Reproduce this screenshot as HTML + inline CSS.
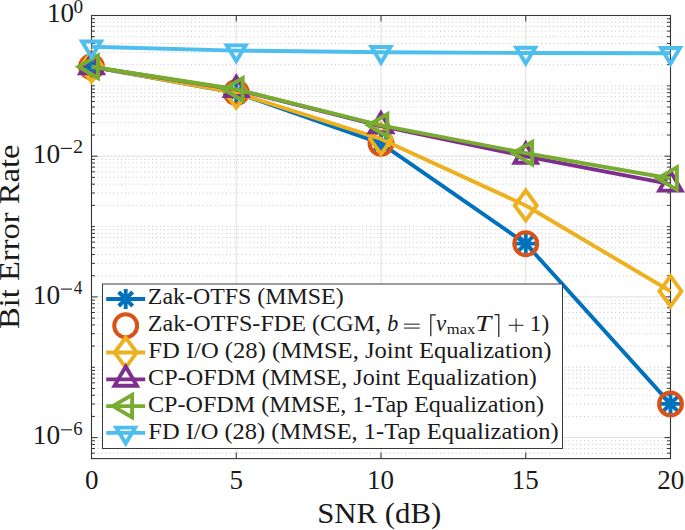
<!DOCTYPE html>
<html><head><meta charset="utf-8"><style>
html,body{margin:0;padding:0;background:#fff;width:685px;height:530px;overflow:hidden}
svg{display:block;font-family:"Liberation Serif",serif}
</style></head><body>
<svg width="685" height="530" viewBox="0 0 685 530">
<rect width="685" height="530" fill="#fff"/>
<path d="M93.74 85.85H669.50 M93.74 64.67H669.50 M93.74 52.28H669.50 M93.74 43.50H669.50 M93.74 36.68H669.50 M93.74 31.11H669.50 M93.74 26.40H669.50 M93.74 22.32H669.50 M93.74 18.72H669.50 M93.74 135.02H669.50 M93.74 122.63H669.50 M93.74 113.85H669.50 M93.74 107.03H669.50 M93.74 101.46H669.50 M93.74 96.75H669.50 M93.74 92.67H669.50 M93.74 89.07H669.50 M93.74 226.55H669.50 M93.74 205.37H669.50 M93.74 192.98H669.50 M93.74 184.20H669.50 M93.74 177.38H669.50 M93.74 171.81H669.50 M93.74 167.10H669.50 M93.74 163.02H669.50 M93.74 159.42H669.50 M93.74 275.72H669.50 M93.74 263.33H669.50 M93.74 254.55H669.50 M93.74 247.73H669.50 M93.74 242.16H669.50 M93.74 237.45H669.50 M93.74 233.37H669.50 M93.74 229.77H669.50 M93.74 367.25H669.50 M93.74 346.07H669.50 M93.74 333.68H669.50 M93.74 324.90H669.50 M93.74 318.08H669.50 M93.74 312.51H669.50 M93.74 307.80H669.50 M93.74 303.72H669.50 M93.74 300.12H669.50 M93.74 416.42H669.50 M93.74 404.03H669.50 M93.74 395.25H669.50 M93.74 388.43H669.50 M93.74 382.86H669.50 M93.74 378.15H669.50 M93.74 374.07H669.50 M93.74 370.47H669.50 M93.74 453.21H669.50 M93.74 448.50H669.50 M93.74 444.42H669.50 M93.74 440.82H669.50" stroke="#c4c4c4" stroke-width="1" stroke-dasharray="1 2.891" fill="none"/>
<path d="M91.50 156.20H670.50 M91.50 296.90H670.50 M91.50 437.60H670.50 M236.25 15.50V458.60 M381.00 15.50V458.60 M525.75 15.50V458.60" stroke="#dfdfdf" stroke-width="1" fill="none"/>
<path d="M91.50 15.50h6M670.50 15.50h-6 M91.50 156.20h6M670.50 156.20h-6 M91.50 296.90h6M670.50 296.90h-6 M91.50 437.60h6M670.50 437.60h-6 M91.50 85.85h3.4M670.50 85.85h-3.4 M91.50 64.67h3.4M670.50 64.67h-3.4 M91.50 52.28h3.4M670.50 52.28h-3.4 M91.50 43.50h3.4M670.50 43.50h-3.4 M91.50 36.68h3.4M670.50 36.68h-3.4 M91.50 31.11h3.4M670.50 31.11h-3.4 M91.50 26.40h3.4M670.50 26.40h-3.4 M91.50 22.32h3.4M670.50 22.32h-3.4 M91.50 18.72h3.4M670.50 18.72h-3.4 M91.50 135.02h3.4M670.50 135.02h-3.4 M91.50 122.63h3.4M670.50 122.63h-3.4 M91.50 113.85h3.4M670.50 113.85h-3.4 M91.50 107.03h3.4M670.50 107.03h-3.4 M91.50 101.46h3.4M670.50 101.46h-3.4 M91.50 96.75h3.4M670.50 96.75h-3.4 M91.50 92.67h3.4M670.50 92.67h-3.4 M91.50 89.07h3.4M670.50 89.07h-3.4 M91.50 226.55h3.4M670.50 226.55h-3.4 M91.50 205.37h3.4M670.50 205.37h-3.4 M91.50 192.98h3.4M670.50 192.98h-3.4 M91.50 184.20h3.4M670.50 184.20h-3.4 M91.50 177.38h3.4M670.50 177.38h-3.4 M91.50 171.81h3.4M670.50 171.81h-3.4 M91.50 167.10h3.4M670.50 167.10h-3.4 M91.50 163.02h3.4M670.50 163.02h-3.4 M91.50 159.42h3.4M670.50 159.42h-3.4 M91.50 275.72h3.4M670.50 275.72h-3.4 M91.50 263.33h3.4M670.50 263.33h-3.4 M91.50 254.55h3.4M670.50 254.55h-3.4 M91.50 247.73h3.4M670.50 247.73h-3.4 M91.50 242.16h3.4M670.50 242.16h-3.4 M91.50 237.45h3.4M670.50 237.45h-3.4 M91.50 233.37h3.4M670.50 233.37h-3.4 M91.50 229.77h3.4M670.50 229.77h-3.4 M91.50 367.25h3.4M670.50 367.25h-3.4 M91.50 346.07h3.4M670.50 346.07h-3.4 M91.50 333.68h3.4M670.50 333.68h-3.4 M91.50 324.90h3.4M670.50 324.90h-3.4 M91.50 318.08h3.4M670.50 318.08h-3.4 M91.50 312.51h3.4M670.50 312.51h-3.4 M91.50 307.80h3.4M670.50 307.80h-3.4 M91.50 303.72h3.4M670.50 303.72h-3.4 M91.50 300.12h3.4M670.50 300.12h-3.4 M91.50 416.42h3.4M670.50 416.42h-3.4 M91.50 404.03h3.4M670.50 404.03h-3.4 M91.50 395.25h3.4M670.50 395.25h-3.4 M91.50 388.43h3.4M670.50 388.43h-3.4 M91.50 382.86h3.4M670.50 382.86h-3.4 M91.50 378.15h3.4M670.50 378.15h-3.4 M91.50 374.07h3.4M670.50 374.07h-3.4 M91.50 370.47h3.4M670.50 370.47h-3.4 M91.50 453.21h3.4M670.50 453.21h-3.4 M91.50 448.50h3.4M670.50 448.50h-3.4 M91.50 444.42h3.4M670.50 444.42h-3.4 M91.50 440.82h3.4M670.50 440.82h-3.4 M91.50 458.60v-6M91.50 15.50v6 M236.25 458.60v-6M236.25 15.50v6 M381.00 458.60v-6M381.00 15.50v6 M525.75 458.60v-6M525.75 15.50v6 M670.50 458.60v-6M670.50 15.50v6" stroke="#333333" stroke-width="1" fill="none"/>
<rect x="91.5" y="15.5" width="579.0" height="443.1" fill="none" stroke="#333333" stroke-width="1.1"/>
<path d="M91.50 66.80L236.25 92.80L381.00 143.30L525.75 243.60L670.50 403.90" stroke="#0072BD" stroke-width="3.9" fill="none" stroke-linejoin="round"/>
<path d="M81.60 66.80L101.40 66.80M84.50 59.80L98.50 73.80M91.50 56.90L91.50 76.70M98.50 59.80L84.50 73.80" stroke="#0072BD" stroke-width="3.9" fill="none"/>
<path d="M226.35 92.80L246.15 92.80M229.25 85.80L243.25 99.80M236.25 82.90L236.25 102.70M243.25 85.80L229.25 99.80" stroke="#0072BD" stroke-width="3.9" fill="none"/>
<path d="M371.10 143.30L390.90 143.30M374.00 136.30L388.00 150.30M381.00 133.40L381.00 153.20M388.00 136.30L374.00 150.30" stroke="#0072BD" stroke-width="3.9" fill="none"/>
<path d="M515.85 243.60L535.65 243.60M518.75 236.60L532.75 250.60M525.75 233.70L525.75 253.50M532.75 236.60L518.75 250.60" stroke="#0072BD" stroke-width="3.9" fill="none"/>
<path d="M660.60 403.90L680.40 403.90M663.50 396.90L677.50 410.90M670.50 394.00L670.50 413.80M677.50 396.90L663.50 410.90" stroke="#0072BD" stroke-width="3.9" fill="none"/>
<circle cx="91.50" cy="66.80" r="11.45" stroke="#D95319" stroke-width="4" fill="none"/>
<circle cx="236.25" cy="92.50" r="11.45" stroke="#D95319" stroke-width="4" fill="none"/>
<circle cx="381.00" cy="143.30" r="11.45" stroke="#D95319" stroke-width="4" fill="none"/>
<circle cx="525.75" cy="243.70" r="11.45" stroke="#D95319" stroke-width="4" fill="none"/>
<circle cx="670.50" cy="403.90" r="11.45" stroke="#D95319" stroke-width="4" fill="none"/>
<path d="M91.50 66.70L236.25 92.80L381.00 138.90L525.75 205.50L670.50 291.20" stroke="#EDB120" stroke-width="3.9" fill="none" stroke-linejoin="round"/>
<path d="M91.50 51.70L102.50 66.70L91.50 81.70L80.50 66.70Z" stroke="#EDB120" stroke-width="3.9" fill="none" stroke-miterlimit="10"/>
<path d="M236.25 77.80L247.25 92.80L236.25 107.80L225.25 92.80Z" stroke="#EDB120" stroke-width="3.9" fill="none" stroke-miterlimit="10"/>
<path d="M381.00 123.90L392.00 138.90L381.00 153.90L370.00 138.90Z" stroke="#EDB120" stroke-width="3.9" fill="none" stroke-miterlimit="10"/>
<path d="M525.75 190.50L536.75 205.50L525.75 220.50L514.75 205.50Z" stroke="#EDB120" stroke-width="3.9" fill="none" stroke-miterlimit="10"/>
<path d="M670.50 276.20L681.50 291.20L670.50 306.20L659.50 291.20Z" stroke="#EDB120" stroke-width="3.9" fill="none" stroke-miterlimit="10"/>
<path d="M91.50 66.90L236.25 89.60L381.00 126.00L525.75 156.30L670.50 184.20" stroke="#7E2F8E" stroke-width="3.9" fill="none" stroke-linejoin="round"/>
<path d="M91.50 54.07L102.70 73.32L80.30 73.32Z" stroke="#7E2F8E" stroke-width="3.9" fill="none" stroke-miterlimit="10"/>
<path d="M236.25 76.77L247.45 96.02L225.05 96.02Z" stroke="#7E2F8E" stroke-width="3.9" fill="none" stroke-miterlimit="10"/>
<path d="M381.00 113.17L392.20 132.42L369.80 132.42Z" stroke="#7E2F8E" stroke-width="3.9" fill="none" stroke-miterlimit="10"/>
<path d="M525.75 143.47L536.95 162.72L514.55 162.72Z" stroke="#7E2F8E" stroke-width="3.9" fill="none" stroke-miterlimit="10"/>
<path d="M670.50 171.37L681.70 190.62L659.30 190.62Z" stroke="#7E2F8E" stroke-width="3.9" fill="none" stroke-miterlimit="10"/>
<path d="M91.50 66.80L236.25 89.30L381.00 125.30L525.75 153.15L670.50 178.50" stroke="#77AC30" stroke-width="3.9" fill="none" stroke-linejoin="round"/>
<path d="M78.67 66.80L97.92 55.60L97.92 78.00Z" stroke="#77AC30" stroke-width="3.9" fill="none" stroke-miterlimit="10"/>
<path d="M223.42 89.30L242.67 78.10L242.67 100.50Z" stroke="#77AC30" stroke-width="3.9" fill="none" stroke-miterlimit="10"/>
<path d="M368.17 125.30L387.42 114.10L387.42 136.50Z" stroke="#77AC30" stroke-width="3.9" fill="none" stroke-miterlimit="10"/>
<path d="M512.92 153.15L532.17 141.95L532.17 164.35Z" stroke="#77AC30" stroke-width="3.9" fill="none" stroke-miterlimit="10"/>
<path d="M657.67 178.50L676.92 167.30L676.92 189.70Z" stroke="#77AC30" stroke-width="3.9" fill="none" stroke-miterlimit="10"/>
<path d="M91.50 46.80L236.25 50.60L381.00 52.20L525.75 53.00L670.50 53.20" stroke="#4DBEEE" stroke-width="3.9" fill="none" stroke-linejoin="round"/>
<path d="M91.50 57.27L100.95 41.57L82.05 41.57Z" stroke="#4DBEEE" stroke-width="3.9" fill="none" stroke-miterlimit="10"/>
<path d="M236.25 61.07L245.70 45.37L226.80 45.37Z" stroke="#4DBEEE" stroke-width="3.9" fill="none" stroke-miterlimit="10"/>
<path d="M381.00 62.67L390.45 46.97L371.55 46.97Z" stroke="#4DBEEE" stroke-width="3.9" fill="none" stroke-miterlimit="10"/>
<path d="M525.75 63.47L535.20 47.77L516.30 47.77Z" stroke="#4DBEEE" stroke-width="3.9" fill="none" stroke-miterlimit="10"/>
<path d="M670.50 63.67L679.95 47.97L661.05 47.97Z" stroke="#4DBEEE" stroke-width="3.9" fill="none" stroke-miterlimit="10"/>
<rect x="102.5" y="284.0" width="460.0" height="164.5" fill="#fff" stroke="#3a3a3a" stroke-width="1"/>
<path d="M106.2 299.00H145.2" stroke="#0072BD" stroke-width="3.9" fill="none"/>
<path d="M115.80 299.00L135.60 299.00M118.70 292.00L132.70 306.00M125.70 289.10L125.70 308.90M132.70 292.00L118.70 306.00" stroke="#0072BD" stroke-width="3.9" fill="none"/>
<circle cx="125.70" cy="325.78" r="11.45" stroke="#D95319" stroke-width="4" fill="none"/>
<path d="M106.2 352.56H145.2" stroke="#EDB120" stroke-width="3.9" fill="none"/>
<path d="M125.70 337.56L136.70 352.56L125.70 367.56L114.70 352.56Z" stroke="#EDB120" stroke-width="3.9" fill="none" stroke-miterlimit="10"/>
<path d="M106.2 379.34H145.2" stroke="#7E2F8E" stroke-width="3.9" fill="none"/>
<path d="M125.70 366.51L136.90 385.76L114.50 385.76Z" stroke="#7E2F8E" stroke-width="3.9" fill="none" stroke-miterlimit="10"/>
<path d="M106.2 406.12H145.2" stroke="#77AC30" stroke-width="3.9" fill="none"/>
<path d="M112.87 406.12L132.12 394.92L132.12 417.32Z" stroke="#77AC30" stroke-width="3.9" fill="none" stroke-miterlimit="10"/>
<path d="M106.2 432.90H145.2" stroke="#4DBEEE" stroke-width="3.9" fill="none"/>
<path d="M125.70 443.37L135.15 427.67L116.25 427.67Z" stroke="#4DBEEE" stroke-width="3.9" fill="none" stroke-miterlimit="10"/>
<text x="147.80" y="304.30" font-family="'Liberation Serif', serif" font-size="22.5" textLength="195.85" lengthAdjust="spacingAndGlyphs" fill="#1a1a1a" >Zak-OTFS (MMSE)</text>
<text x="148.32" y="358.04" font-family="'Liberation Serif', serif" font-size="22.5" textLength="403.14" lengthAdjust="spacingAndGlyphs" fill="#1a1a1a" >FD I/O (28) (MMSE, Joint Equalization)</text>
<text x="148.06" y="384.91" font-family="'Liberation Serif', serif" font-size="22.5" textLength="388.82" lengthAdjust="spacingAndGlyphs" fill="#1a1a1a" >CP-OFDM (MMSE, Joint Equalization)</text>
<text x="148.06" y="411.78" font-family="'Liberation Serif', serif" font-size="22.5" textLength="395.93" lengthAdjust="spacingAndGlyphs" fill="#1a1a1a" >CP-OFDM (MMSE, 1-Tap Equalization)</text>
<text x="148.32" y="438.65" font-family="'Liberation Serif', serif" font-size="22.5" textLength="410.25" lengthAdjust="spacingAndGlyphs" fill="#1a1a1a" >FD I/O (28) (MMSE, 1-Tap Equalization)</text>
<text x="147.79" y="331.17" font-family="'Liberation Serif', serif" font-size="22.5" textLength="233.28" lengthAdjust="spacingAndGlyphs" fill="#1a1a1a" >Zak-OTFS-FDE (CGM,</text>
<text x="387.24" y="331.17" font-family="'Liberation Serif', serif" font-size="22.5" font-style="italic" textLength="11.08" lengthAdjust="spacingAndGlyphs" fill="#1a1a1a" >b</text>
<path d="M404 324.17H419.7M404 328.07H419.7" stroke="#1a1a1a" stroke-width="1" fill="none"/>
<path d="M435.8 314.97H430.8V336.37M494.6 314.57H498.8V336.97" stroke="#1a1a1a" stroke-width="1.2" fill="none"/>
<text x="436.00" y="331.17" font-family="'Liberation Serif', serif" font-size="22.5" font-style="italic" textLength="10.2" lengthAdjust="spacingAndGlyphs" fill="#1a1a1a">&#x3bd;</text>
<text x="446.80" y="333.77" font-family="'Liberation Serif', serif" font-size="15.5" textLength="28.40" lengthAdjust="spacingAndGlyphs" fill="#1a1a1a" >max</text>
<text x="475.36" y="331.17" font-family="'Liberation Serif', serif" font-size="24" font-style="italic" textLength="15.97" lengthAdjust="spacingAndGlyphs" fill="#1a1a1a" >T</text>
<path d="M508.7 325.27H523.5M516.1 318.47V332.17" stroke="#1a1a1a" stroke-width="1" fill="none"/>
<text x="529.83" y="331.17" font-family="'Liberation Serif', serif" font-size="22.5" textLength="19.40" lengthAdjust="spacingAndGlyphs" fill="#1a1a1a" >1)</text>
<text x="85.05" y="488.55" font-family="'Liberation Serif', serif" font-size="27" textLength="13.50" lengthAdjust="spacingAndGlyphs" fill="#1a1a1a" >0</text>
<text x="229.55" y="488.55" font-family="'Liberation Serif', serif" font-size="27" textLength="13.50" lengthAdjust="spacingAndGlyphs" fill="#1a1a1a" >5</text>
<text x="367.11" y="488.55" font-family="'Liberation Serif', serif" font-size="27" textLength="27.00" lengthAdjust="spacingAndGlyphs" fill="#1a1a1a" >10</text>
<text x="511.86" y="488.55" font-family="'Liberation Serif', serif" font-size="27" textLength="27.00" lengthAdjust="spacingAndGlyphs" fill="#1a1a1a" >15</text>
<text x="657.24" y="488.55" font-family="'Liberation Serif', serif" font-size="27" textLength="27.00" lengthAdjust="spacingAndGlyphs" fill="#1a1a1a" >20</text>
<text x="47.02" y="22.10" font-family="'Liberation Serif', serif" font-size="27" textLength="27.09" lengthAdjust="spacingAndGlyphs" fill="#1a1a1a" >10</text>
<text x="73.44" y="12.70" font-family="'Liberation Serif', serif" font-size="19" textLength="9.62" lengthAdjust="spacingAndGlyphs" fill="#1a1a1a" >0</text>
<text x="32.89" y="163.00" font-family="'Liberation Serif', serif" font-size="27" textLength="27.43" lengthAdjust="spacingAndGlyphs" fill="#1a1a1a" >10</text>
<path d="M60.9 148.40H72.0" stroke="#1a1a1a" stroke-width="1.1" fill="none"/>
<text x="73.07" y="153.35" font-family="'Liberation Serif', serif" font-size="19" textLength="10.09" lengthAdjust="spacingAndGlyphs" fill="#1a1a1a" >2</text>
<text x="32.89" y="303.70" font-family="'Liberation Serif', serif" font-size="27" textLength="27.43" lengthAdjust="spacingAndGlyphs" fill="#1a1a1a" >10</text>
<path d="M60.9 289.10H72.0" stroke="#1a1a1a" stroke-width="1.1" fill="none"/>
<text x="73.66" y="294.05" font-family="'Liberation Serif', serif" font-size="19" textLength="8.67" lengthAdjust="spacingAndGlyphs" fill="#1a1a1a" >4</text>
<text x="32.89" y="444.40" font-family="'Liberation Serif', serif" font-size="27" textLength="27.43" lengthAdjust="spacingAndGlyphs" fill="#1a1a1a" >10</text>
<path d="M60.9 429.80H72.0" stroke="#1a1a1a" stroke-width="1.1" fill="none"/>
<text x="73.26" y="434.75" font-family="'Liberation Serif', serif" font-size="19" textLength="9.33" lengthAdjust="spacingAndGlyphs" fill="#1a1a1a" >6</text>
<text x="317.21" y="522.60" font-family="'Liberation Serif', serif" font-size="29" textLength="124.00" lengthAdjust="spacingAndGlyphs" fill="#1a1a1a" >SNR (dB)</text>
<text transform="translate(19.4 328.1) rotate(-90)" x="-0.98" y="0" font-family="'Liberation Serif', serif" font-size="29" textLength="184.55" lengthAdjust="spacingAndGlyphs" fill="#1a1a1a">Bit Error Rate</text>
</svg>
</body></html>
